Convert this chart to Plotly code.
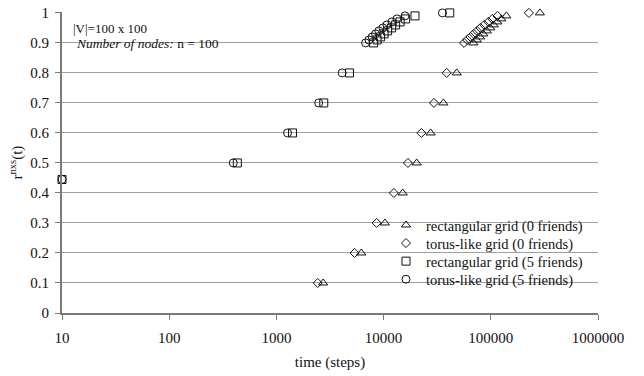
import plotly.graph_objects as go

# Coverage levels r^nxs(t)
coverage_0f = [0.1, 0.2, 0.3, 0.4, 0.5, 0.6, 0.7, 0.8,
               0.9, 0.91, 0.92, 0.93, 0.94, 0.95, 0.96, 0.97, 0.98, 0.99, 1.0]
coverage_5f = [0.445, 0.5, 0.6, 0.7, 0.8,
               0.9, 0.91, 0.92, 0.93, 0.94, 0.95, 0.96, 0.97, 0.98, 0.99, 1.0]

# Time (steps) needed to reach each coverage level
t_rect_0f = [2730, 6190, 10280, 15070, 20340, 27480, 36100, 48100,
             68900, 73900, 79400, 85100, 91800, 98900, 106600, 115000, 125400, 139700, 287000]
t_torus_0f = [2430, 5360, 8610, 12470, 16860, 22500, 29500, 38800,
              56300, 60300, 64600, 69300, 74400, 80100, 86900, 94800, 103300, 115500, 226600]
t_rect_5f = [10, 432, 1413, 2767, 4810,
             8070, 8700, 9370, 10100, 10900, 11880, 12950, 14260, 16060, 19630, 41400]
t_torus_5f = [10, 396, 1270, 2480, 4110,
              6790, 7300, 7820, 8410, 9030, 9850, 10740, 11960, 13320, 15810, 35400]

x_tickvals = [10, 100, 1000, 10000, 100000, 1000000]
x_ticktext = ["10", "100", "1000", "10000", "100000", "1000000"]
y_tickvals = [0, 0.1, 0.2, 0.3, 0.4, 0.5, 0.6, 0.7, 0.8, 0.9, 1.0]
y_ticktext = ["0", "0.1", "0.2", "0.3", "0.4", "0.5", "0.6", "0.7", "0.8", "0.9", "1"]

FONT = "Liberation Serif, Times New Roman, serif"

# Plot area in pixels (used to place paper-referenced items)
PL, PR, PT, PB = 62, 598, 5, 313
def px_x(x):
    return (x - PL) / (PR - PL)
def px_y(y):
    return (PB - y) / (PB - PT)

series = [
    ("rectangular grid (0 friends)", t_rect_0f, coverage_0f, "triangle-up-open", 8, "legend"),
    ("torus-like grid (0 friends)", t_torus_0f, coverage_0f, "diamond-open", 7, "legend2"),
    ("rectangular grid (5 friends)", t_rect_5f, coverage_5f, "square-open", 8, "legend3"),
    ("torus-like grid (5 friends)", t_torus_5f, coverage_5f, "circle-open", 8, "legend4"),
]

fig = go.Figure()
for name, xs, ys, sym, size, leg in series:
    fig.add_trace(go.Scatter(
        x=xs, y=ys, mode="markers", name=name, cliponaxis=False, legend=leg,
        marker=dict(symbol=sym, size=size, color="#111111",
                    line=dict(width=1, color="#111111")),
    ))

# White panels behind the info text and the legend
fig.add_shape(type="rect", xref="paper", yref="paper", layer="between",
              x0=0.0, x1=px_x(220), y0=px_y(45), y1=px_y(13),
              fillcolor="white", line=dict(width=0))
fig.add_shape(type="rect", xref="paper", yref="paper", layer="between",
              x0=px_x(405), x1=px_x(587), y0=px_y(295), y1=px_y(206),
              fillcolor="white", line=dict(width=0))

fig.add_annotation(xref="paper", yref="paper", x=px_x(72), y=px_y(22),
                   xanchor="left", yanchor="middle", showarrow=False, borderpad=0,
                   text="|V|=100 x 100", font=dict(family=FONT, size=13, color="#111"))
fig.add_annotation(xref="paper", yref="paper", x=px_x(75), y=px_y(37.5),
                   xanchor="left", yanchor="middle", showarrow=False, borderpad=0,
                   text="<i>Number of nodes:</i> n = 100", font=dict(family=FONT, size=13.5, color="#111"))

legend_rows = {"legend": 223, "legend2": 241.5, "legend3": 260, "legend4": 278.5}
legend_style = {}
for key, yc in legend_rows.items():
    legend_style[key] = dict(x=px_x(386), y=px_y(yc), xanchor="left", yanchor="middle",
                             bgcolor="rgba(0,0,0,0)", borderwidth=0,
                             font=dict(family=FONT, size=14.5, color="#111"))

fig.update_layout(
    width=644, height=376,
    margin=dict(l=PL, r=644 - PR, t=PT, b=376 - PB),
    paper_bgcolor="white", plot_bgcolor="white",
    font=dict(family=FONT, size=15, color="#111"),
    showlegend=True,
    **legend_style,
    xaxis=dict(type="log", range=[1, 6], tickvals=x_tickvals, ticktext=x_ticktext,
               showgrid=False, zeroline=False, showline=True, linecolor="#7a7a7a", linewidth=2,
               ticks="outside", ticklen=5, tickwidth=1, tickcolor="#7a7a7a",
               ticklabelstandoff=5,
               title=dict(text="time (steps)", font=dict(family=FONT, size=15), standoff=11)),
    yaxis=dict(range=[0, 1.003], tickvals=y_tickvals, ticktext=y_ticktext,
               showgrid=True, gridcolor="#a0a0a0", gridwidth=1,
               zeroline=False, showline=True, linecolor="#7a7a7a", linewidth=2,
               ticks="outside", ticklen=5, tickwidth=1, tickcolor="#7a7a7a",
               ticklabelstandoff=3, ticklabeloverflow="allow",
               title=dict(text="r<sup>nxs</sup>(t)", font=dict(family=FONT, size=15), standoff=4)),
)

fig.write_html("out.html")
